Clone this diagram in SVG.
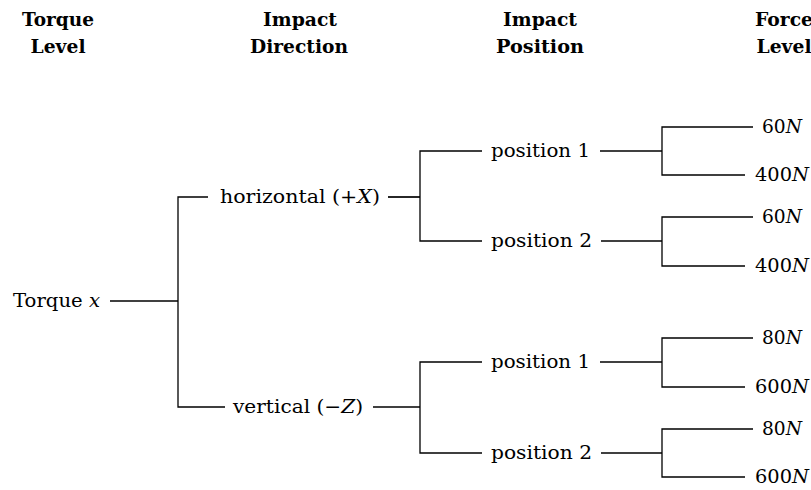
<svg xmlns="http://www.w3.org/2000/svg" width="811" height="490" viewBox="0 0 811 490">
<style>
text{font-family:"DejaVu Serif","Liberation Serif",serif;font-size:19px;fill:#000}
.h{font-weight:bold;text-anchor:middle}
.i{font-style:italic}
.e{fill:none;stroke:#000;stroke-width:1.3}
.s{fill:none;stroke:#000;stroke-width:1.7}
</style>
<rect width="811" height="490" fill="#fff"/>
<g id="headers">
<text class="h" x="58" y="26" textLength="72" lengthAdjust="spacingAndGlyphs">Torque</text>
<text class="h" x="58" y="53" textLength="55" lengthAdjust="spacingAndGlyphs">Level</text>
<text class="h" x="300" y="26" textLength="74" lengthAdjust="spacingAndGlyphs">Impact</text>
<text class="h" x="299" y="53" textLength="98" lengthAdjust="spacingAndGlyphs">Direction</text>
<text class="h" x="540" y="26" textLength="74" lengthAdjust="spacingAndGlyphs">Impact</text>
<text class="h" x="540" y="53" textLength="88" lengthAdjust="spacingAndGlyphs">Position</text>
<text class="h" x="784" y="26" textLength="58" lengthAdjust="spacingAndGlyphs">Force</text>
<text class="h" x="784" y="53" textLength="55" lengthAdjust="spacingAndGlyphs">Level</text>
</g>
<g id="connectors">
<path class="s" d="M110 301H178"/>
<path class="e" d="M208 197H178V407H225"/>
<path class="s" d="M388 197H420"/>
<path class="s" d="M373 407H420"/>
<path class="e" d="M482 151H420V241H482"/>
<path class="e" d="M482 362H420V453H482"/>
<path class="s" d="M600 151H662"/>
<path class="s" d="M601 241H662"/>
<path class="s" d="M600 362H662"/>
<path class="s" d="M601 453H662"/>
<path class="e" d="M753 127H662V175H745"/>
<path class="e" d="M753 217H662V266H745"/>
<path class="e" d="M753 338H662V387H745"/>
<path class="e" d="M753 429H662V477H745"/>
</g>
<g id="torque"><text x="13" y="307" textLength="87" lengthAdjust="spacingAndGlyphs">Torque <tspan class="i">x</tspan></text></g>
<g id="horizontal"><text x="220" y="203" textLength="160" lengthAdjust="spacingAndGlyphs">horizontal (+<tspan class="i">X</tspan>)</text></g>
<g id="vertical"><text x="233" y="413" textLength="130" lengthAdjust="spacingAndGlyphs">vertical (−<tspan class="i">Z</tspan>)</text></g>
<g id="h-pos1"><text x="491" y="157" textLength="99" lengthAdjust="spacingAndGlyphs">position 1</text></g>
<g id="h-pos2"><text x="491" y="247" textLength="101" lengthAdjust="spacingAndGlyphs">position 2</text></g>
<g id="v-pos1"><text x="491" y="368" textLength="99" lengthAdjust="spacingAndGlyphs">position 1</text></g>
<g id="v-pos2"><text x="491" y="459" textLength="101" lengthAdjust="spacingAndGlyphs">position 2</text></g>
<g id="h1-60"><text x="762" y="133" textLength="40" lengthAdjust="spacingAndGlyphs">60<tspan class="i">N</tspan></text></g>
<g id="h1-400"><text x="755" y="181" textLength="54" lengthAdjust="spacingAndGlyphs">400<tspan class="i">N</tspan></text></g>
<g id="h2-60"><text x="762" y="223" textLength="40" lengthAdjust="spacingAndGlyphs">60<tspan class="i">N</tspan></text></g>
<g id="h2-400"><text x="755" y="272" textLength="54" lengthAdjust="spacingAndGlyphs">400<tspan class="i">N</tspan></text></g>
<g id="v1-80"><text x="762" y="344" textLength="40" lengthAdjust="spacingAndGlyphs">80<tspan class="i">N</tspan></text></g>
<g id="v1-600"><text x="755" y="393" textLength="54" lengthAdjust="spacingAndGlyphs">600<tspan class="i">N</tspan></text></g>
<g id="v2-80"><text x="762" y="435" textLength="40" lengthAdjust="spacingAndGlyphs">80<tspan class="i">N</tspan></text></g>
<g id="v2-600"><text x="755" y="483" textLength="54" lengthAdjust="spacingAndGlyphs">600<tspan class="i">N</tspan></text></g>
</svg>
